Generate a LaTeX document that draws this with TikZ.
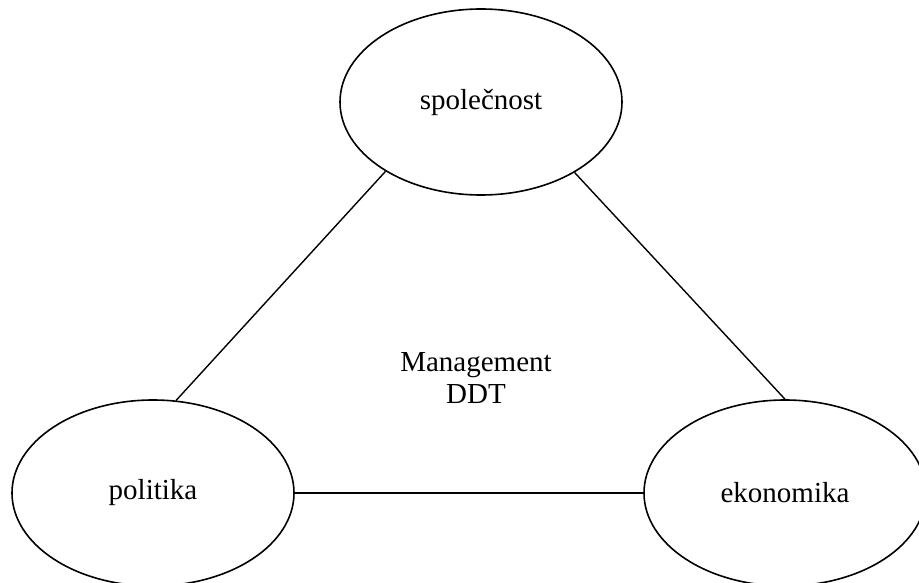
\documentclass[tikz,border=0pt]{standalone}
\usepackage{fontspec}
\setmainfont{Liberation Serif}
\usetikzlibrary{shapes.geometric}
\begin{document}
\begin{tikzpicture}[x=1pt,y=-1pt,
  oval/.style={draw,ellipse,line width=1.6pt,minimum width=282pt,minimum height=186pt,inner sep=0pt,
    font=\fontsize{29}{34}\selectfont},
  link/.style={line width=1.4pt}]
  \useasboundingbox (0,0) rectangle (919,583);
  \clip (0,0) rectangle (919,583);
  \fill[white] (0,0) rectangle (919,583);
  \node[oval] (spol) at (481,102) {společnost};
  \node[oval] (pol) at (153,493) {politika};
  \node[oval] (eko) at (785,493) {ekonomika};
  \node[align=center,font=\fontsize{29}{32}\selectfont] (mgmt) at (476,378) {Management\\DDT};
  \draw[link] (spol.216) -- (pol.76);
  \draw[link] (spol.323) -- (eko.90);
  \draw[link] (pol.0) -- (eko.180);
\end{tikzpicture}
\end{document}
